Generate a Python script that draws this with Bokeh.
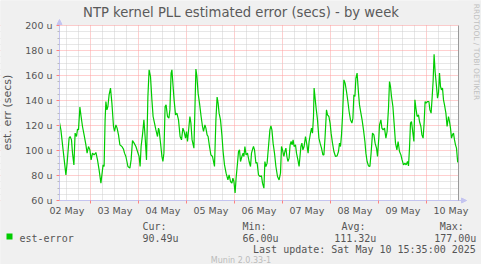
import math
import pandas as pd
from bokeh.plotting import figure
from bokeh.models import (ColumnDataSource, Range1d, FixedTicker, Label, BoxAnnotation,
                          LinearAxis, Arrow, NormalHead)
from bokeh.embed import file_html
from bokeh.resources import INLINE

# ---------------- data ----------------
base_time = "2025-05-03 00:00"          # hours below are offsets from this instant
hours = [
    -15.7, -15.0, -13.9, -12.5, -11.9, -10.9, -10.4, -9.7, -9.2, -8.5, -7.9, -7.2, -6.7, -6.2,
    -5.5, -4.9, -4.2, -3.4, -2.5, -1.9, -1.2, -0.5, 0.1, 0.8, 1.6, 2.5, 3.3, 4.1, 5.0, 5.5,
    6.1, 6.6, 7.1, 7.5, 8.0, 8.5, 9.1, 9.8, 10.5, 11.3, 11.8, 12.5, 13.1, 13.8, 14.5, 15.5,
    16.3, 16.8, 17.5, 18.5, 19.5, 20.1, 20.8, 21.6, 22.5, 23.3, 24.1, 24.6, 25.1, 25.8, 26.5,
    27.1, 27.8, 28.5, 29.1, 29.8, 30.5, 31.1, 31.8, 32.5, 33.3, 33.8, 34.1, 35.0, 35.5, 36.0,
    36.5, 37.1, 37.6, 38.3, 39.0, 39.5, 40.1, 40.5, 41.1, 41.6, 42.3, 43.0, 43.8, 44.6, 45.3,
    46.0, 46.6, 47.3, 47.8, 48.3, 49.5, 50.0, 50.6, 51.5, 52.0, 52.5, 53.0, 53.6, 54.3, 55.1,
    55.8, 56.3, 57.0, 57.5, 58.1, 58.6, 59.3, 60.0, 60.8, 61.8, 62.5, 63.1, 63.6, 64.1, 64.8,
    65.5, 66.1, 66.8, 67.6, 68.5, 69.1, 69.8, 70.5, 71.0, 71.5, 72.1, 72.6, 73.3, 73.8, 74.3,
    74.8, 75.5, 76.1, 76.5, 77.0, 77.6, 78.3, 79.1, 79.8, 80.3, 81.0, 81.3, 81.8, 82.5, 83.1,
    83.8, 84.6, 85.3, 85.8, 86.5, 87.0, 87.5, 88.1, 88.8, 89.5, 90.0, 90.5, 91.1, 91.8, 92.5,
    93.3, 94.1, 94.8, 95.3, 95.8, 96.5, 97.0, 97.5, 98.0, 98.5, 99.1, 99.6, 100.1, 100.6,
    101.1, 101.6, 102.3, 102.8, 103.5, 104.1, 105.0, 105.5, 106.0, 106.6, 107.3, 108.0, 108.6,
    109.1, 109.8, 110.3, 110.8, 111.3, 111.6, 112.1, 112.6, 113.3, 114.0, 114.6, 115.3, 116.0,
    116.5, 117.1, 117.8, 118.3, 119.0, 119.6, 120.1, 120.8, 121.5, 122.3, 123.1, 123.8, 124.3,
    124.8, 125.3, 125.8, 126.5, 127.1, 127.8, 128.5, 129.1, 129.8, 130.5, 131.0, 131.5, 132.0,
    132.5, 133.1, 133.8, 134.3, 135.0, 135.6, 136.3, 137.0, 137.5, 138.1, 138.8, 139.5, 140.1,
    140.8, 141.5, 142.1, 142.8, 143.3, 144.0, 144.3, 145.0, 145.5, 146.1, 146.8, 147.5, 148.1,
    148.8, 149.3, 149.8, 150.3, 151.0, 151.6, 152.3, 153.0, 153.6, 154.3, 155.0, 155.6, 156.3,
    157.0, 157.6, 158.3, 158.8, 159.3, 159.8, 160.3, 161.0, 161.5, 162.0, 162.5, 163.1, 163.8,
    164.3, 165.0, 165.5, 166.1, 166.6, 167.1, 167.6, 168.3, 169.0, 169.5, 170.1, 170.6, 171.1,
    171.6, 172.1, 172.8, 173.3, 173.8, 174.3, 174.8, 175.3, 175.8, 176.3, 176.8, 177.5, 178.1,
    178.8, 179.3, 179.8, 180.3, 180.8, 181.3, 181.8, 182.3, 182.8, 183.4,
]
est_error_us = [
    122.4, 116.5, 100.5, 80.5, 89.9, 109.9, 111.2, 108.5, 97.9, 88.5, 113.9, 111.2, 117.1, 116.5,
    134.7, 127.2, 119.2, 112.5, 104.5, 97.9, 103.2, 100.5, 92.5, 97.9, 96.5, 98.4, 92.5, 84.5, 73.9, 80.5,
    88.5, 87.2, 124.5, 139.2, 132.5, 135.2, 144.5, 149.9, 137.9, 119.2, 115.2, 120.5, 117.9, 112.5, 104.5, 103.2,
    101.1, 97.9, 95.2, 87.2, 85.9, 92.5, 108.0, 105.9, 103.2, 99.2, 95.2, 87.2, 103.2, 112.5, 124.5,
    111.2, 92.5, 143.2, 164.5, 159.2, 140.5, 127.2, 121.9, 116.5, 111.2, 117.9, 116.5, 103.2, 95.2, 91.2,
    97.9, 135.2, 136.5, 127.2, 125.9, 132.5, 161.9, 164.5, 151.2, 140.5, 128.5, 129.9, 124.5, 111.2, 108.5,
    117.9, 115.2, 109.9, 115.2, 107.2, 127.2, 121.9, 108.5, 101.9, 132.5, 165.1, 159.2, 145.9, 137.9, 127.2,
    119.2, 115.2, 120.5, 117.9, 112.5, 111.2, 103.2, 96.5, 95.2, 87.2, 124.5, 142.7, 137.9, 129.9, 124.5,
    112.5, 99.2, 88.5, 81.9, 76.5, 80.5, 75.2, 73.9, 77.9, 75.2, 66.0, 77.9, 89.9, 99.2, 100.5,
    91.2, 95.2, 97.9, 95.2, 103.2, 96.5, 97.9, 91.2, 87.2, 97.9, 101.9, 103.2, 100.5, 89.9, 90.4,
    80.5, 79.2, 79.7, 73.9, 69.9, 91.2, 87.2, 89.9, 103.2, 116.5, 119.7, 116.5, 105.9, 97.9, 87.2,
    79.2, 76.5, 81.9, 103.2, 100.5, 95.2, 99.2, 101.9, 95.2, 91.2, 93.9, 104.5, 107.2, 104.5,
    108.5, 103.2, 104.5, 97.9, 92.5, 87.2, 103.2, 105.9, 100.5, 103.2, 111.2, 104.5, 97.9,
    107.2, 113.9, 117.9, 113.9, 127.2, 149.9, 141.9, 133.9, 124.5, 109.9, 105.9, 101.9, 96.5,
    96.5, 111.2, 132.5, 128.5, 127.2, 121.9, 113.9, 105.9, 99.2, 95.2, 95.7, 99.2, 105.9,
    103.2, 112.5, 127.2, 156.5, 153.9, 147.2, 139.2, 131.2, 124.5, 121.9, 125.9, 144.5, 143.2,
    157.9, 161.9, 145.9, 136.5, 129.9, 124.5, 116.5, 107.2, 97.9, 91.2, 87.7, 87.2, 97.9,
    113.9, 112.5, 105.9, 101.9, 95.2, 111.2, 120.5, 124.5, 117.9, 116.5, 117.9, 109.9, 115.2,
    133.9, 155.2, 151.2, 143.2, 135.2, 121.9, 105.9, 100.5, 107.2, 99.2, 96.5, 92.5, 88.5,
    89.9, 88.5, 91.2, 87.7, 101.9, 121.9, 123.2, 113.9, 107.2, 140.5, 133.9, 127.2, 128.5,
    123.2, 119.2, 112.5, 109.9, 121.9, 139.2, 137.9, 139.2, 139.2, 132.5, 129.9, 141.9, 155.2,
    177.0, 163.2, 151.2, 141.9, 145.9, 161.9, 151.2, 148.5, 149.9, 140.5, 136.5, 129.9, 119.2,
    127.2, 123.2, 117.9, 109.9, 112.5, 113.9, 108.5, 104.5, 101.9, 90.49,
]
x_start_hours, x_end_hours = -15.7, 183.8
y_min, y_max = 60, 200
y_ticks = [60, 80, 100, 120, 140, 160, 180, 200]
y_tick_labels = ["60 u", "80 u", "100 u", "120 u", "140 u", "160 u", "180 u", "200 u"]
x_label_days = ["2025-05-02", "2025-05-03", "2025-05-04", "2025-05-05", "2025-05-06",
                "2025-05-07", "2025-05-08", "2025-05-09", "2025-05-10"]
x_tick_labels = ["02 May", "03 May", "04 May", "05 May", "06 May",
                 "07 May", "08 May", "09 May", "10 May"]
series_name = "est-error"
stat_names = ["Cur:", "Min:", "Avg:", "Max:"]
stat_values = ["90.49u", "66.00u", "111.32u", "177.00u"]
title_text = "NTP kernel PLL estimated error (secs) - by week"
y_axis_text = "est. err (secs)"
last_update_text = "Last update: Sat May 10 15:35:00 2025"
munin_text = "Munin 2.0.33-1"
rrd_text = "RRDTOOL / TOBI OETIKER"

# ---------------- geometry (pixels of the figure) ----------------
FIG_W, FIG_H = 481, 264
CH_L, CH_R, CH_T, CH_B = 59, 458, 25, 200          # chart area inside the figure
hpp = (x_end_hours - x_start_hours) / (CH_R - CH_L)  # hours per pixel
upp = (y_max - y_min) / (CH_B - CH_T)                # units per pixel
x_lo_h = x_start_hours - CH_L * hpp
x_hi_h = x_end_hours + (FIG_W - CH_R) * hpp
y_lo = y_min - (FIG_H - CH_B) * upp
y_hi = y_max + CH_T * upp

base = pd.Timestamp(base_time)


def ms(ts):
    return int(pd.Timestamp(ts).value // 10**6)


def X(px):   # figure pixel column -> data x (ms)
    return ms(base + pd.Timedelta(hours=x_lo_h + px * hpp))


def Y(py):   # figure pixel row (from top) -> data y
    return y_hi - py * upp


times = base + pd.to_timedelta(hours, unit="h")
src = ColumnDataSource(data=dict(t=times, v=est_error_us))

x_start_ms = ms(base + pd.Timedelta(hours=x_start_hours))
x_end_ms = ms(base + pd.Timedelta(hours=x_end_hours))
noon_ms = [ms(pd.Timestamp(d) + pd.Timedelta(hours=12)) for d in x_label_days]
midnight_ms = [ms(pd.Timestamp(d)) for d in x_label_days[1:]]
six_h = pd.date_range(pd.Timestamp(x_label_days[0]),
                      pd.Timestamp(x_label_days[-1]) + pd.Timedelta(hours=18), freq="6h")
six_h_ms = [ms(t) for t in six_h if t.hour != 0]
y_minor = [v for v in range(60, 201, 5) if v not in y_ticks]

FONT = "DejaVu Sans"
MONO = "DejaVu Sans Mono"
TXT = "#555555"
BG = "#F0F0F0"
AXC = "#c4c4f0"

p = figure(width=FIG_W, height=FIG_H, output_backend="svg", toolbar_location=None,
           x_axis_type="datetime",
           x_range=Range1d(X(0), X(FIG_W)), y_range=Range1d(y_lo, y_hi),
           min_border=0)
p.background_fill_color = BG
p.border_fill_color = BG
p.outline_line_color = None

# white chart canvas below the grid
p.add_layout(BoxAnnotation(left=x_start_ms, right=x_end_ms, bottom=y_min, top=y_max,
                           fill_color="white", fill_alpha=1, line_color=None, level="image"))

# grids
p.xgrid.ticker = FixedTicker(ticks=midnight_ms, minor_ticks=six_h_ms)
p.ygrid.ticker = FixedTicker(ticks=y_ticks, minor_ticks=y_minor)
for g in (p.xgrid, p.ygrid):
    g.grid_line_color = "#ff9f9f"
    g.grid_line_dash = "1 1"
    g.grid_line_width = 1
    g.minor_grid_line_color = "#cfcfcf"
    g.minor_grid_line_dash = "1 1"
    g.minor_grid_line_width = 1

# mask the grid outside the chart area
for kw in (dict(bottom=y_max + 0.4), dict(top=y_min), dict(right=x_start_ms), dict(left=x_end_ms)):
    p.add_layout(BoxAnnotation(fill_color=BG, fill_alpha=1, line_color=None, level="underlay", **kw))

# axes (fixed at the chart edges)
xa = p.xaxis[0]
xa.fixed_location = y_min
xa.bounds = (x_start_ms, X(466))
xa.ticker = FixedTicker(ticks=noon_ms, minor_ticks=midnight_ms)
xa.major_label_overrides = {k: lab for k, lab in zip(noon_ms, x_tick_labels)}
xa.major_tick_line_color = None
xa.major_tick_out = 0
xa.major_tick_in = 0
xa.minor_tick_line_color = "#ff8080"
xa.minor_tick_out = 3
xa.minor_tick_in = 0
xa.major_label_standoff = 1

ya = p.yaxis[0]
ya.fixed_location = x_start_ms
ya.bounds = (y_min, Y(21))
ya.ticker = FixedTicker(ticks=y_ticks, minor_ticks=y_minor)
ya.major_label_overrides = {k: lab for k, lab in zip(y_ticks, y_tick_labels)}
ya.major_tick_line_color = "#ff8080"
ya.major_tick_out = 3
ya.major_tick_in = 0
ya.minor_tick_line_color = "#bbbbbb"
ya.minor_tick_out = 2
ya.minor_tick_in = 0
ya.major_label_standoff = 4

for ax in (xa, ya):
    ax.axis_line_color = AXC
    ax.axis_line_width = 1
    ax.major_label_text_font = FONT
    ax.major_label_text_font_size = "9.5px"
    ax.major_label_text_color = TXT

# right edge rule of the chart
edge = LinearAxis(fixed_location=x_end_ms, bounds=(y_min, y_max), ticker=FixedTicker(ticks=[]),
                  axis_line_color="#9a9a9a", major_tick_line_color=None,
                  minor_tick_line_color=None, major_label_text_font_size="0px")
p.add_layout(edge, "right")

# axis arrow heads
p.add_layout(Arrow(end=NormalHead(size=5, fill_color=AXC, line_color=AXC), line_color=AXC,
                   x_start=x_start_ms, y_start=Y(23), x_end=x_start_ms, y_end=Y(19)))
p.add_layout(Arrow(end=NormalHead(size=5, fill_color=AXC, line_color=AXC), line_color=AXC,
                   x_start=X(462), y_start=y_min, x_end=X(466), y_end=y_min))

# series
p.line("t", "v", source=src, line_color="#00cc00", line_width=1.2)


# ---------------- texts ----------------
def lab(px, py, text, font=FONT, size="10px", color=TXT, align="left", angle=0.0,
        baseline="middle"):
    p.add_layout(Label(x=X(px), y=Y(py), text=text, text_font=font, text_font_size=size,
                       text_color=color, text_align=align, text_baseline=baseline,
                       angle=angle))


lab(240.5, 11.5, title_text, size="13.2px", color="#5a5a5a", align="center", baseline="alphabetic")
lab(6.5, 112, y_axis_text, size="11px", align="center", angle=math.pi / 2)
lab(476, 51.5, rrd_text, size="7.5px", color="#c0c0c0", align="center", angle=-math.pi / 2)

p.add_layout(BoxAnnotation(left=X(6), right=X(12), top=Y(233), bottom=Y(239),
                           fill_color="#00cc00", fill_alpha=1.0, line_color=None))
lab(19, 237.7, series_name, font=MONO)
for px, name in zip([142, 242, 341, 439.3], stat_names):
    lab(px, 225.7, name, font=MONO)
for px, val in zip([142, 242, 333.7, 433.7], stat_values):
    lab(px, 237.7, val, font=MONO)
lab(475.3, 249.3, last_update_text, font=MONO, align="right")
lab(240.5, 259.5, munin_text, size="8px", color="#bbbbbb", align="center")

open("out.html", "w").write(file_html(p, INLINE))
